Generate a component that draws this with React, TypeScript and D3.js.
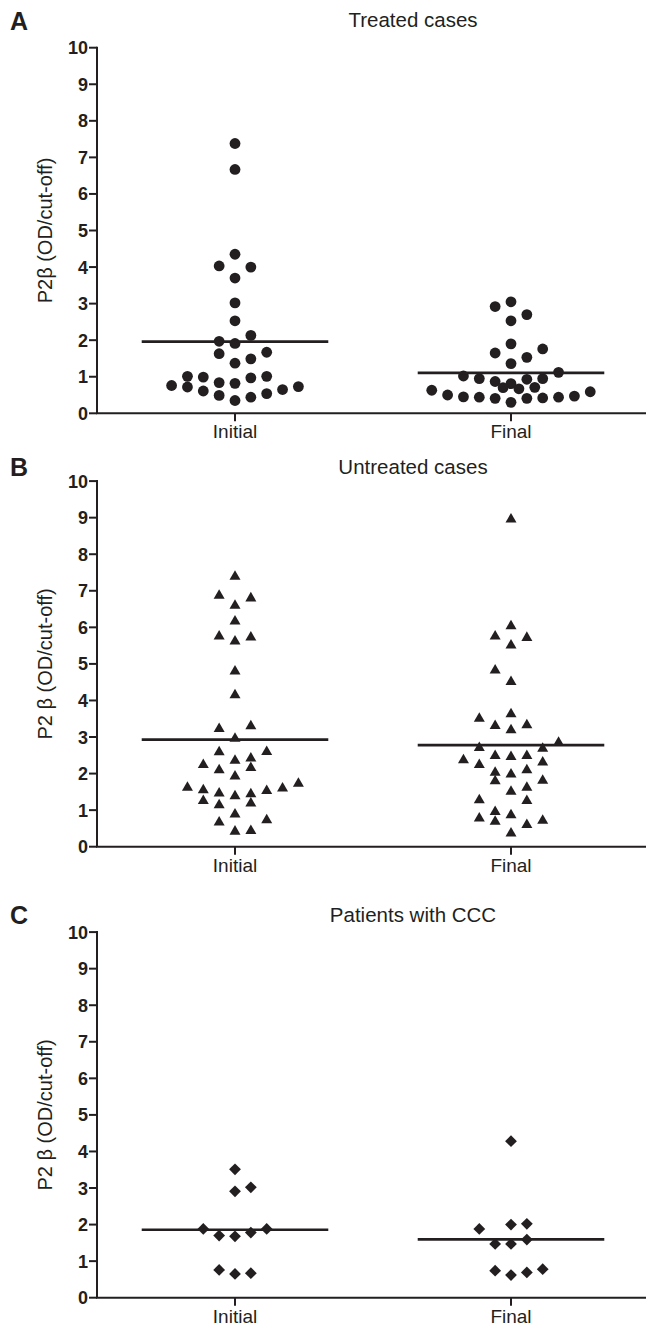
import React from "react";
import * as d3 from "d3";

// ---------- data ----------
const categories = ["Initial", "Final"];
const yTicks = [0, 1, 2, 3, 4, 5, 6, 7, 8, 9, 10];

const treatedInitial = [7.38, 6.67, 4.35, 4.03, 4.0, 3.7, 3.02, 2.53, 2.13, 1.97, 1.91, 1.63, 1.67, 1.49, 1.37, 1.01, 0.97, 0.99, 1.01, 0.76, 0.72, 0.84, 0.82, 0.61, 0.49, 0.35, 0.44, 0.54, 0.65, 0.73];
const treatedFinal = [3.05, 2.92, 2.7, 2.53, 1.9, 1.76, 1.65, 1.53, 1.36, 1.12, 1.02, 0.95, 0.95, 0.93, 0.87, 0.81, 0.71, 0.7, 0.67, 0.63, 0.59, 0.5, 0.47, 0.45, 0.44, 0.44, 0.42, 0.41, 0.41, 0.3];

const untreatedInitial = [7.43, 6.91, 6.84, 6.64, 6.21, 5.8, 5.77, 5.66, 4.84, 4.19, 3.34, 3.27, 3.0, 2.64, 2.63, 2.46, 2.4, 2.28, 2.2, 2.14, 1.97, 1.77, 1.66, 1.64, 1.59, 1.57, 1.5, 1.48, 1.43, 1.3, 1.23, 1.18, 0.93, 0.77, 0.71, 0.48, 0.46];
const untreatedFinal = [9.0, 6.08, 5.8, 5.76, 5.55, 4.87, 4.55, 3.67, 3.55, 3.37, 3.35, 3.23, 2.89, 2.75, 2.73, 2.53, 2.53, 2.5, 2.41, 2.35, 2.28, 2.14, 2.07, 2.02, 1.85, 1.84, 1.66, 1.55, 1.32, 1.3, 1.0, 0.91, 0.82, 0.76, 0.73, 0.64, 0.41];

const cccInitial = [3.51, 3.02, 2.91, 1.88, 1.88, 1.78, 1.7, 1.68, 0.76, 0.67, 0.65];
const cccFinal = [4.28, 2.02, 2.0, 1.88, 1.59, 1.47, 1.47, 0.78, 0.74, 0.69, 0.62];

const panelLetters = ["A", "B", "C"];
const panelTitles = ["Treated cases", "Untreated cases", "Patients with CCC"];
const panelYLabels = ["P2β (OD/cut-off)", "P2 β (OD/cut-off)", "P2 β (OD/cut-off)"];
const panelSeries = [
  [treatedInitial, treatedFinal],
  [untreatedInitial, untreatedFinal],
  [cccInitial, cccFinal],
];
const panelShapes = ["circle", "triangle", "diamond"];

// ---------- layout ----------
const W = 647;
const H = 1327;
const axisX = 97;
const axisRight = 646;
const layout = [
  { top: 47.7, bottom: 413.3, titleY: 27, letterY: 30 },
  { top: 481.1, bottom: 846.7, titleY: 474, letterY: 476 },
  { top: 932.1, bottom: 1297.7, titleY: 922, letterY: 924 },
];
const INK = "#231f20";
const FONT = "'Liberation Sans', Arial, Helvetica, sans-serif";

// Prism-like row swarm: values are grouped in rows; within a row points
// spread alternately right/left from the centre column.
function swarmColumns(values: number[], rowSpan = 0.415, maxPerRow = 11): number[] {
  const idx = values.map((v, i) => ({ v, i })).sort((a, b) => a.v - b.v || a.i - b.i);
  const cols: number[] = new Array(values.length).fill(0);
  let dir = 1;
  let k = 0;
  while (k < idx.length) {
    const start = idx[k].v;
    const row: { v: number; i: number }[] = [];
    while (k < idx.length && idx[k].v - start <= rowSpan + 1e-9) {
      row.push(idx[k]);
      k++;
    }
    row.forEach((p, i) => {
      let o: number;
      if (i < maxPerRow) {
        o = i === 0 ? 0 : Math.ceil(i / 2) * (i % 2 === 1 ? dir : -dir);
      } else {
        const j = i - maxPerRow;
        o = (Math.floor(j / 2) + 0.5) * (j % 2 === 0 ? dir : -dir);
      }
      cols[p.i] = o;
    });
    dir = -dir;
  }
  return cols;
}

function markerPath(shape: string): string {
  if (shape === "circle") {
    const p = d3.path();
    p.arc(0, 0, 5.4, 0, Math.PI * 2);
    p.closePath();
    return p.toString();
  }
  if (shape === "triangle") {
    const s = 11;
    const h = s * 0.866;
    return `M0,${-h / 2}L${s / 2},${h / 2}L${-s / 2},${h / 2}Z`;
  }
  const r = 5.9;
  return `M0,${-r}L${r},0L0,${r}L${-r},0Z`;
}

const colStep = 15.85;

function Panel({ p }: { p: number }) {
  const L = layout[p];
  const y = d3.scaleLinear().domain([0, 10]).range([L.bottom, L.top]);
  const x = d3.scalePoint<string>().domain(categories).range([axisX, 649]).padding(0.5);
  const series = panelSeries[p];
  const path = markerPath(panelShapes[p]);
  const meanHalf = x.step() * 0.338;
  const midY = (L.top + L.bottom) / 2;

  return (
    <g>
      <text x={10} y={L.letterY} fontFamily={FONT} fontWeight="bold" fontSize={25} fill={INK}>
        {panelLetters[p]}
      </text>
      <text x={413} y={L.titleY} textAnchor="middle" fontFamily={FONT} fontSize={20.5} fill={INK}>
        {panelTitles[p]}
      </text>
      <text
        transform={`translate(52,${midY}) rotate(-90)`}
        textAnchor="middle"
        fontFamily={FONT}
        fontSize={20}
        fill={INK}
      >
        {panelYLabels[p]}
      </text>

      {/* y axis */}
      <line x1={axisX} x2={axisX} y1={y(10) - 1} y2={y(0)} stroke={INK} strokeWidth={2} />
      {yTicks.map((t) => (
        <g key={t}>
          <line x1={axisX - 8} x2={axisX} y1={y(t)} y2={y(t)} stroke={INK} strokeWidth={2} />
          <text
            x={axisX - 9}
            y={y(t)}
            dy="0.36em"
            textAnchor="end"
            fontFamily={FONT}
            fontWeight="bold"
            fontSize={18}
            fill={INK}
          >
            {t}
          </text>
        </g>
      ))}

      {/* x axis */}
      <line x1={axisX - 1} x2={axisRight} y1={y(0)} y2={y(0)} stroke={INK} strokeWidth={2} />
      {categories.map((c) => (
        <g key={c}>
          <line x1={x(c)} x2={x(c)} y1={y(0)} y2={y(0) + 8} stroke={INK} strokeWidth={2} />
          <text x={x(c)} y={y(0) + 25} textAnchor="middle" fontFamily={FONT} fontSize={19} fill={INK}>
            {c}
          </text>
        </g>
      ))}

      {/* points and mean lines */}
      {categories.map((c, ci) => {
        const vals = series[ci];
        const cols = swarmColumns(vals);
        const m = d3.mean(vals) as number;
        const cx = x(c) as number;
        return (
          <g key={c}>
            {vals.map((v, i) => (
              <path key={i} d={path} transform={`translate(${cx + cols[i] * colStep},${y(v)})`} fill={INK} />
            ))}
            <line x1={cx - meanHalf} x2={cx + meanHalf} y1={y(m)} y2={y(m)} stroke={INK} strokeWidth={2.6} />
          </g>
        );
      })}
    </g>
  );
}

export default function App() {
  return (
    <svg
      width={W}
      height={H}
      viewBox={`0 0 ${W} ${H}`}
      style={{ position: "absolute", left: 0, top: 0, background: "#fff" }}
    >
      <rect x={0} y={0} width={W} height={H} fill="#fff" />
      {[0, 1, 2].map((p) => (
        <Panel key={p} p={p} />
      ))}
    </svg>
  );
}
